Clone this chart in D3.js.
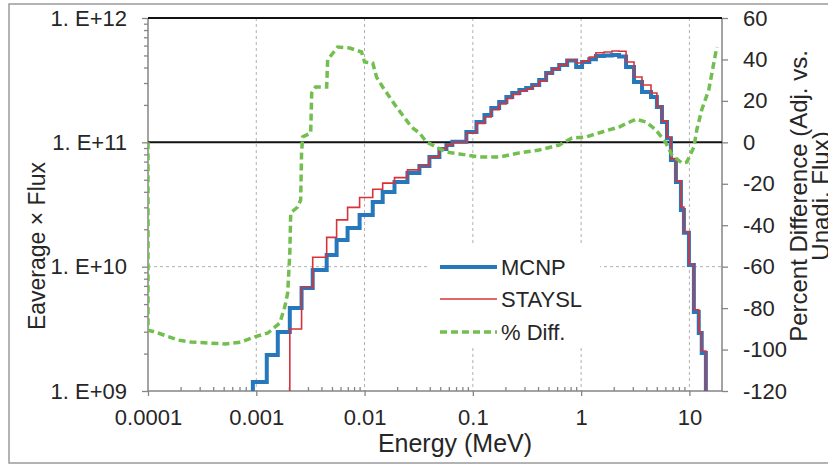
<!DOCTYPE html>
<html>
<head>
<meta charset="utf-8">
<script src="https://cdn.jsdelivr.net/npm/d3@7"></script>
<style>
  body { margin: 0; background: #fff; }
  text { font-family: "Liberation Sans", Arial, sans-serif; fill: #262626; }
</style>
</head>
<body>
<svg id="chart" width="828" height="465"></svg>
<script>

// group edges (MeV), one more than the number of bins
var energyEdges = [0.00093, 0.00125, 0.00158, 0.00204, 0.00262, 0.00332, 0.00447, 0.00552, 0.00697, 0.0090,
  0.0119, 0.0147, 0.0189, 0.0249, 0.0321, 0.0397, 0.0491, 0.0570, 0.0647, 0.0871,
  0.108, 0.128, 0.148, 0.175, 0.204, 0.231, 0.269, 0.311, 0.353, 0.410,
  0.475, 0.541, 0.627, 0.743, 0.90, 1.02, 1.19, 1.37, 1.63, 1.93,
  2.24, 2.60, 3.08, 3.65, 4.42, 5.01, 5.58, 6.21, 6.75, 7.51,
  8.35, 8.90, 9.9, 11.0, 12.2, 13.0, 14.2];

var mcnpFlux = [1.18e9, 1.95e9, 2.98e9, 4.65e9, 6.74e9, 9.4e9, 1.24e10, 1.64e10, 2.05e10, 2.60e10,
  3.31e10, 3.99e10, 4.80e10, 5.67e10, 6.45e10, 7.62e10, 8.84e10, 9.52e10, 1.01e11, 1.21e11,
  1.46e11, 1.66e11, 1.89e11, 2.11e11, 2.32e11, 2.49e11, 2.64e11, 2.74e11, 2.89e11, 3.17e11,
  3.61e11, 3.89e11, 4.19e11, 4.55e11, 4.04e11, 4.43e11, 4.65e11, 4.95e11, 5.0e11, 5.03e11,
  4.9e11, 4.04e11, 3.05e11, 2.54e11, 2.32e11, 1.92e11, 1.46e11, 1.08e11, 7.21e10, 4.80e10,
  2.86e10, 1.87e10, 1.03e10, 4.31e9, 2.93e9, 2.02e9];

var stayslFlux = [null, null, null, 3.15e9, 6.8e9, 1.19e10, 1.72e10, 2.38e10, 3.0e10, 3.6e10,
  4.2e10, 4.7e10, 5.2e10, 6.0e10, 6.5e10, 7.6e10, 8.9e10, 9.5e10, 1.0e11, 1.19e11,
  1.42e11, 1.60e11, 1.83e11, 2.04e11, 2.25e11, 2.43e11, 2.58e11, 2.68e11, 2.84e11, 3.12e11,
  3.58e11, 3.88e11, 4.22e11, 4.62e11, 4.35e11, 4.50e11, 4.85e11, 5.25e11, 5.33e11, 5.43e11,
  5.40e11, 4.43e11, 3.35e11, 2.89e11, 2.49e11, 1.95e11, 1.48e11, 1.10e11, 7.4e10, 4.9e10,
  3.02e10, 1.9e10, 1.05e10, 4.5e9, 3.0e9, 2.1e9];

var diffEnergy = [0.0001, 0.0001, 0.000124, 0.000189, 0.000249, 0.000357, 0.000513, 0.000719, 0.000968, 0.00128,
  0.00165, 0.00183, 0.00195, 0.00204, 0.00208, 0.00241, 0.00257, 0.00262, 0.00268, 0.00318,
  0.00325, 0.00353, 0.00447, 0.00456, 0.00564, 0.00727, 0.00938, 0.0100, 0.0119, 0.0129,
  0.0147, 0.0170, 0.0197, 0.0224, 0.0271, 0.0321, 0.0373, 0.0461, 0.057, 0.0751,
  0.115, 0.175, 0.268, 0.410, 0.627, 0.826, 1.11, 1.56, 2.24, 3.21,
  3.97, 4.91, 6.07, 6.90, 8.53, 9.48, 11.0, 11.7, 13.0, 15.1, 17.9];

var diffPercent = [0, -90.6, -92, -95.4, -96.4, -96.8, -97.3, -96.4, -93.9, -92,
  -87.2, -79.5, -72.7, -53.4, -34.1, -31.2, -27.8, -5.1, 2.6, 4.5,
  23.8, 26.7, 26.7, 39.8, 46.0, 45.5, 43.6, 38.8, 38.3, 31.5,
  26.7, 21.9, 17.1, 13.2, 7.4, 4.5, 0.2, -2.3, -4.7, -5.6,
  -7.1, -7.1, -5.1, -3.7, -1.3, 2.1, 2.6, 5.0, 7.4, 11.2,
  9.8, 6.0, -0.3, -6.1, -10.0, -9.5, -2.3, 6.0, 15.7, 25.3, 46.0];

var xTickValues = [0.0001, 0.001, 0.01, 0.1, 1, 10];
var xTickLabels = ["0.0001", "0.001", "0.01", "0.1", "1", "10"];
var yTickValues = [1e9, 1e10, 1e11, 1e12];
var yTickLabels = ["1. E+09", "1. E+10", "1. E+11", "1. E+12"];
var pctTickValues = [-120, -100, -80, -60, -40, -20, 0, 20, 40, 60];
var legendNames = ["MCNP", "STAYSL", "% Diff."];

var blue = "#2777bd", red = "#d7343a", green = "#72bf4f", axisGray = "#858585";

var pLeft = 148, pRight = 722, pTop = 18, pBottom = 391;

var svg = d3.select('#chart');

var x = d3.scaleLog().domain([1e-4, 20]).range([pLeft, pRight]);
var y = d3.scaleLog().domain([1e9, 1e12]).range([pBottom, pTop]);
var yPct = d3.scaleLinear().domain([-120, 60]).range([pBottom, pTop]);

// outer chart frame
svg.append('rect')
    .attr('x', 9).attr('y', 4).attr('width', 840).attr('height', 459)
    .attr('fill', 'none').attr('stroke', '#9a9a9a').attr('stroke-width', 1.5);

// grid
svg.append('g').selectAll('line')
    .data(xTickValues.slice(1))
    .enter().append('line')
    .attr('x1', function(d) { return x(d); }).attr('x2', function(d) { return x(d); })
    .attr('y1', pTop).attr('y2', pBottom)
    .attr('stroke', '#b0b0b0').attr('stroke-dasharray', '3,3');

svg.append('line')
    .attr('x1', pLeft).attr('x2', pRight)
    .attr('y1', y(1e10)).attr('y2', y(1e10))
    .attr('stroke', '#b0b0b0').attr('stroke-dasharray', '3,3');

// legend box hides the grid behind it
svg.append('rect')
    .attr('x', 430).attr('y', 245).attr('width', 170).attr('height', 103)
    .attr('fill', '#fff');

// axes
function majorFmt(d) {
  return yTickLabels[yTickValues.indexOf(d)];
}

var yMinor = y.ticks().filter(function(d) { return yTickValues.indexOf(d) < 0; });
var xMinor = x.ticks().filter(function(d) { return xTickValues.indexOf(d) < 0 && d < 20; });

var gLeft = svg.append('g').attr('transform', 'translate(' + pLeft + ',0)');
gLeft.call(d3.axisLeft(y).tickValues(yTickValues).tickSize(6).tickPadding(15).tickFormat(majorFmt));
gLeft.append('g').call(d3.axisLeft(y).tickValues(yMinor).tickSize(4).tickFormat(''));

var gBottom = svg.append('g').attr('transform', 'translate(0,' + pBottom + ')');
gBottom.call(d3.axisBottom(x).tickValues(xTickValues).tickSize(5).tickPadding(13)
    .tickFormat(function(d, i) { return xTickLabels[i]; }));
gBottom.append('g').call(d3.axisBottom(x).tickValues(xMinor).tickSize(-4).tickFormat(''));

var gRight = svg.append('g').attr('transform', 'translate(' + pRight + ',0)');
gRight.call(d3.axisRight(yPct).tickValues(pctTickValues).tickSize(6).tickPadding(15)
    .tickFormat(function(d) { return String(d); }));

svg.selectAll('.domain').remove();
svg.selectAll('.tick line').attr('stroke', axisGray).attr('stroke-width', 1.3);
svg.selectAll('.tick text').attr('font-size', 22).attr('fill', '#262626')
    .attr('font-family', '"Liberation Sans", Arial, sans-serif');

[[pLeft, pTop, pLeft, pBottom], [pLeft, pBottom, pRight, pBottom], [pRight, pTop, pRight, pBottom]].forEach(function(s) {
  svg.append('line')
      .attr('x1', s[0]).attr('y1', s[1]).attr('x2', s[2]).attr('y2', s[3])
      .attr('stroke', axisGray).attr('stroke-width', 1.5);
});

// black lines: top edge and zero of percent axis
[pTop, yPct(0)].forEach(function(yy) {
  svg.append('line')
      .attr('x1', pLeft).attr('x2', pRight).attr('y1', yy).attr('y2', yy)
      .attr('stroke', '#111').attr('stroke-width', 2);
});

// axis titles
svg.append('text')
    .attr('transform', 'translate(45,246) rotate(-90)')
    .attr('text-anchor', 'middle').attr('font-size', 23)
    .text('Eaverage \u00d7 Flux');

svg.append('text')
    .attr('x', 455).attr('y', 452)
    .attr('text-anchor', 'middle').attr('font-size', 25)
    .text('Energy (MeV)');

var rTitle = svg.append('text')
    .attr('transform', 'translate(807,196) rotate(-90)')
    .attr('text-anchor', 'middle').attr('font-size', 24);
rTitle.append('tspan').attr('x', 0).attr('y', 0).text('Percent Difference (Adj. vs.');
rTitle.append('tspan').attr('x', 0).attr('y', 22).text('Unadj. Flux)');

// data
svg.append('clipPath').attr('id', 'plotClip')
  .append('rect').attr('x', pLeft).attr('y', pTop).attr('width', pRight - pLeft).attr('height', pBottom - pTop);

function stepPoints(values) {
  var floor = y.domain()[0];
  var first = values.findIndex(function(v) { return v != null; });
  var n = values.length;
  var pts = [[energyEdges[first], floor]];
  for (var i = first; i < n; i++) pts.push([energyEdges[i], values[i]]);
  pts.push([energyEdges[n], values[n - 1]]);
  pts.push([energyEdges[n], floor]);
  return pts;
}

var stepLine = d3.line()
    .x(function(d) { return x(d[0]); })
    .y(function(d) { return y(d[1]); })
    .curve(d3.curveStepAfter);

var plot = svg.append('g').attr('clip-path', 'url(#plotClip)');

plot.append('path')
    .attr('d', stepLine(stepPoints(mcnpFlux)))
    .attr('fill', 'none').attr('stroke', blue).attr('stroke-width', 4);

plot.append('path')
    .attr('d', stepLine(stepPoints(stayslFlux)))
    .attr('fill', 'none').attr('stroke', red).attr('stroke-width', 1.6);

var diffLine = d3.line()
    .x(function(d, i) { return x(diffEnergy[i]); })
    .y(function(d) { return yPct(d); });

plot.append('path')
    .attr('d', diffLine(diffPercent))
    .attr('fill', 'none').attr('stroke', green).attr('stroke-width', 3.5)
    .attr('stroke-dasharray', '7,4');

// legend
var legendStyles = [
  { color: blue, width: 4, dash: null },
  { color: red, width: 1.6, dash: null },
  { color: green, width: 3.5, dash: '7,4' }
];
var legendY = [267, 299, 332];

var legend = svg.append('g');
legendNames.forEach(function(name, i) {
  var st = legendStyles[i];
  legend.append('line')
      .attr('x1', 440).attr('x2', 497)
      .attr('y1', legendY[i]).attr('y2', legendY[i])
      .attr('stroke', st.color).attr('stroke-width', st.width)
      .attr('stroke-dasharray', st.dash);
  legend.append('text')
      .attr('x', 501).attr('y', legendY[i] + 8)
      .attr('font-size', 22)
      .text(name);
});

</script>
</body>
</html>
